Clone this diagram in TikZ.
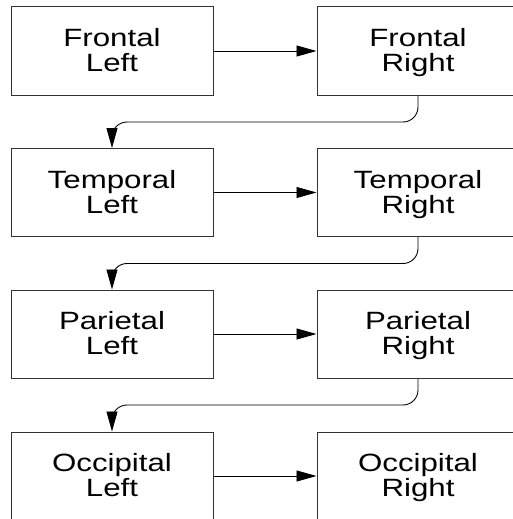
\documentclass[tikz,border=0pt]{standalone}
\usepackage{fontspec}
\setmainfont[FakeStretch=1.25]{Liberation Sans}
\usepackage{tikz}
\usetikzlibrary{arrows.meta}
\newcommand{\lobe}[2]{\rule{0pt}{24pt}#1\\\strut #2}

\begin{document}
\begin{tikzpicture}[%
x=1pt, y=-1pt,
every node/.style = {draw=black!80, line width=1pt, minimum width=202pt, minimum height=88pt, inner sep=0pt, align=center, font=\fontsize{25}{25}\selectfont},
link/.style = {draw, line width=0.9pt, -{Triangle[length=20pt,width=11pt]}},
turn/.style = {link, rounded corners=15pt}
]
\useasboundingbox (0,0) rectangle (512,519);
\node (frontalL) at (112,51) {\lobe{Frontal}{Left}};
\node (frontalR) at (418,51) {\lobe{Frontal}{Right}};
\node (temporalL) at (112,192.5) {\lobe{Temporal}{Left}};
\node (temporalR) at (418,192.5) {\lobe{Temporal}{Right}};
\node (parietalL) at (112,334) {\lobe{Parietal}{Left}};
\node (parietalR) at (418,334) {\lobe{Parietal}{Right}};
\node (occipitalL) at (112,476) {\lobe{Occipital}{Left}};
\node (occipitalR) at (418,476) {\lobe{Occipital}{Right}};

\draw[link] (frontalL) -- (frontalR);
\draw[link] (temporalL) -- (temporalR);
\draw[link] (parietalL) -- (parietalR);
\draw[link] (occipitalL) -- (occipitalR);

\draw[turn] (frontalR.south) -- ++(0,26.5) -| (temporalL.north);
\draw[turn] (temporalR.south) -- ++(0,26.5) -| (parietalL.north);
\draw[turn] (parietalR.south) -- ++(0,26.5) -| (occipitalL.north);
\end{tikzpicture}
\end{document}
